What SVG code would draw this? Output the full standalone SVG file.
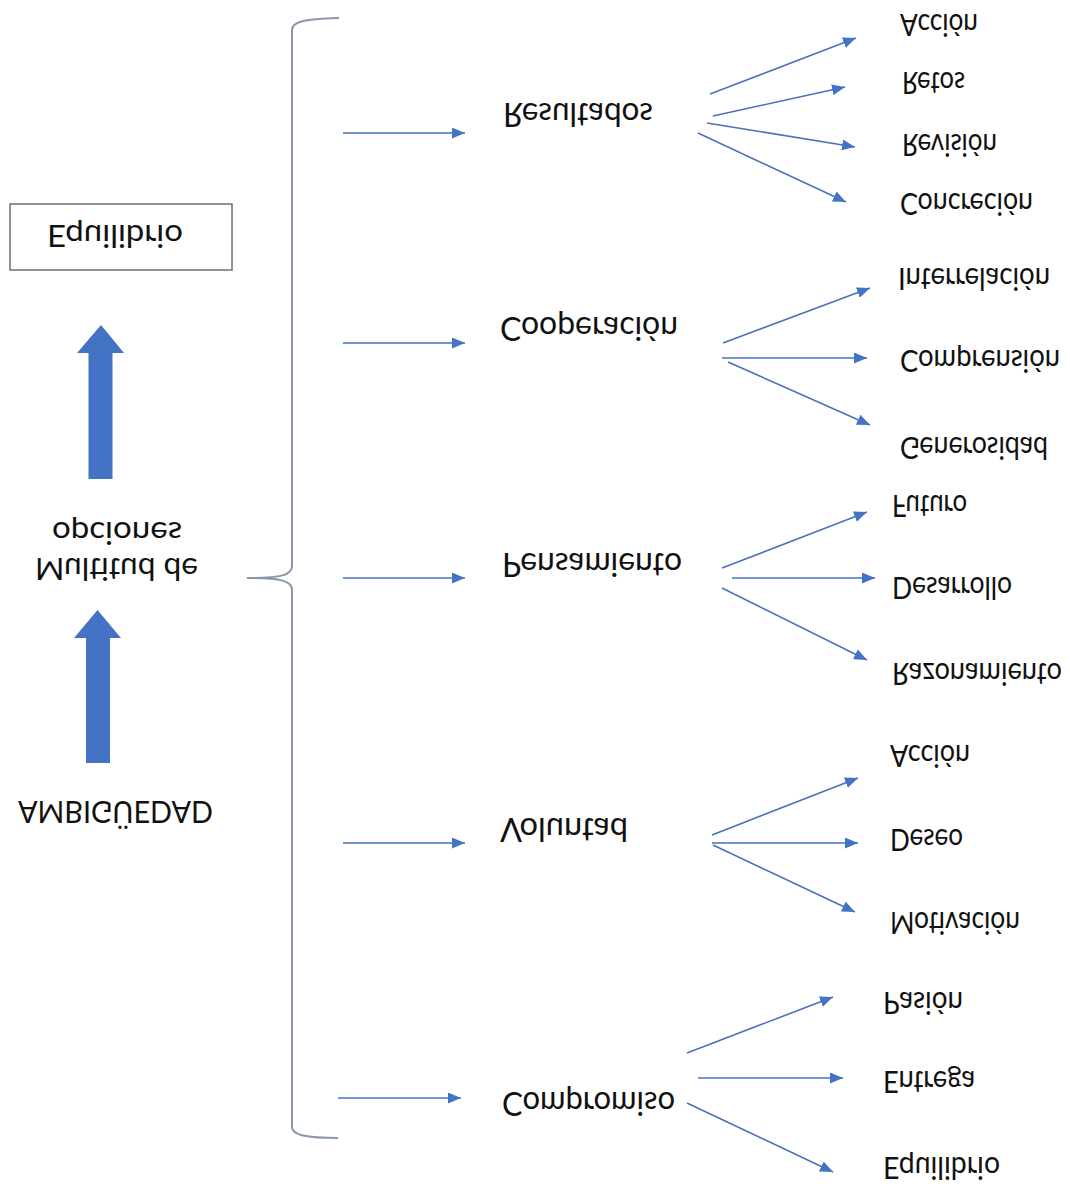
<svg xmlns="http://www.w3.org/2000/svg" width="1070" height="1189" viewBox="0 0 1070 1189">
  <style>
    text { font-family: "Lato", "Liberation Sans", sans-serif; fill: #111; }
    .l0 { font-size: 30px; }
    .l1 { font-size: 33px; }
    .l2 { font-size: 30px; }
    .link { stroke: #4a72b8; stroke-width: 1.6; fill: none; marker-end: url(#tip); }
    .brace { stroke: #8a96aa; stroke-width: 2; fill: none; }
    .block { fill: #4472c4; }
    .frame { fill: #fff; stroke: #66707c; stroke-width: 1.5; }
  </style>
  <defs>
    <marker id="tip" markerUnits="userSpaceOnUse" markerWidth="13" markerHeight="11" refX="13" refY="5.5" orient="auto">
      <path d="M0,0 L13,5.5 L0,11 z" fill="#4472c4"/>
    </marker>
  </defs>
  <rect width="1070" height="1189" fill="#fff"/>

  <!-- left column: mirrored labels and block arrows -->
  <g id="n-equilibrio-box">
    <rect class="frame" x="10" y="204" width="222" height="66"/>
    <text class="l0" transform="translate(47,225) scale(1,-1)" textLength="136" lengthAdjust="spacingAndGlyphs">Equilibrio</text>
  </g>
  <g id="n-arrow-upper">
    <polygon class="block" points="101,325 124,353 112.5,353 112.5,479 88.5,479 88.5,353 77,353"/>
  </g>
  <g id="n-multitud">
    <text class="l0" transform="translate(52,522) scale(1,-1)" textLength="130" lengthAdjust="spacingAndGlyphs">opciones</text>
    <text class="l0" transform="translate(35,558) scale(1,-1)" textLength="163" lengthAdjust="spacingAndGlyphs">Multitud de</text>
  </g>
  <g id="n-arrow-lower">
    <polygon class="block" points="97.5,610 121,638 110,638 110,763 86,763 86,638 74,638"/>
  </g>
  <g id="n-ambiguedad">
    <text class="l0" transform="translate(18,801) scale(1,-1)" textLength="195" lengthAdjust="spacingAndGlyphs">AMBIGÜEDAD</text>
  </g>

  <!-- first level -->
  <g id="n-resultados">
    <text class="l1" transform="translate(503,103) scale(1,-1)" textLength="150" lengthAdjust="spacingAndGlyphs">Resultados</text>
  </g>
  <g id="n-cooperacion">
    <text class="l1" transform="translate(500,317) scale(1,-1)" textLength="178" lengthAdjust="spacingAndGlyphs">Cooperación</text>
  </g>
  <g id="n-pensamiento">
    <text class="l1" transform="translate(502,553) scale(1,-1)" textLength="180" lengthAdjust="spacingAndGlyphs">Pensamiento</text>
  </g>
  <g id="n-voluntad">
    <text class="l1" transform="translate(500,818) scale(1,-1)" textLength="128" lengthAdjust="spacingAndGlyphs">Voluntad</text>
  </g>
  <g id="n-compromiso">
    <text class="l1" transform="translate(502,1092) scale(1,-1)" textLength="173" lengthAdjust="spacingAndGlyphs">Compromiso</text>
  </g>

  <!-- second level -->
  <g id="n-accion-1"><text class="l2" transform="translate(900,14) scale(1,-1)" textLength="78" lengthAdjust="spacingAndGlyphs">Acción</text></g>
  <g id="n-retos"><text class="l2" transform="translate(902,72) scale(1,-1)" textLength="63" lengthAdjust="spacingAndGlyphs">Retos</text></g>
  <g id="n-revision"><text class="l2" transform="translate(902,134) scale(1,-1)" textLength="95" lengthAdjust="spacingAndGlyphs">Revisión</text></g>
  <g id="n-concrecion"><text class="l2" transform="translate(900,193) scale(1,-1)" textLength="133" lengthAdjust="spacingAndGlyphs">Concreción</text></g>

  <g id="n-interrelacion"><text class="l2" transform="translate(898,268) scale(1,-1)" textLength="152" lengthAdjust="spacingAndGlyphs">Interrelación</text></g>
  <g id="n-comprension"><text class="l2" transform="translate(900,350) scale(1,-1)" textLength="160" lengthAdjust="spacingAndGlyphs">Comprensión</text></g>
  <g id="n-generosidad"><text class="l2" transform="translate(900,437) scale(1,-1)" textLength="148" lengthAdjust="spacingAndGlyphs">Generosidad</text></g>

  <g id="n-futuro"><text class="l2" transform="translate(892,495) scale(1,-1)" textLength="75" lengthAdjust="spacingAndGlyphs">Futuro</text></g>
  <g id="n-desarrollo"><text class="l2" transform="translate(892,577) scale(1,-1)" textLength="120" lengthAdjust="spacingAndGlyphs">Desarrollo</text></g>
  <g id="n-razonamiento"><text class="l2" transform="translate(892,663) scale(1,-1)" textLength="170" lengthAdjust="spacingAndGlyphs">Razonamiento</text></g>

  <g id="n-accion-2"><text class="l2" transform="translate(890,745) scale(1,-1)" textLength="80" lengthAdjust="spacingAndGlyphs">Acción</text></g>
  <g id="n-deseo"><text class="l2" transform="translate(890,829) scale(1,-1)" textLength="73" lengthAdjust="spacingAndGlyphs">Deseo</text></g>
  <g id="n-motivacion"><text class="l2" transform="translate(890,912) scale(1,-1)" textLength="130" lengthAdjust="spacingAndGlyphs">Motivación</text></g>

  <g id="n-pasion"><text class="l2" transform="translate(883,992) scale(1,-1)" textLength="80" lengthAdjust="spacingAndGlyphs">Pasión</text></g>
  <g id="n-entrega"><text class="l2" transform="translate(883,1071) scale(1,-1)" textLength="92" lengthAdjust="spacingAndGlyphs">Entrega</text></g>
  <g id="n-equilibrio-2"><text class="l2" transform="translate(883,1157) scale(1,-1)" textLength="117" lengthAdjust="spacingAndGlyphs">Equilibrio</text></g>

  <!-- connectors -->
  <g id="connectors">
    <path class="brace" d="M339,18 C306,19 292,21 292,30 L292,566 C292,575 282,578 247,578 C282,578 292,581 292,590 L292,1127 C292,1135 306,1138 338,1138"/>

    <line class="link" x1="343" y1="133" x2="465" y2="133"/>
    <line class="link" x1="343" y1="343" x2="465" y2="343"/>
    <line class="link" x1="343" y1="578" x2="465" y2="578"/>
    <line class="link" x1="343" y1="843" x2="465" y2="843"/>
    <line class="link" x1="338" y1="1098" x2="461" y2="1098"/>

    <line class="link" x1="710" y1="94" x2="856" y2="38"/>
    <line class="link" x1="713" y1="116" x2="845" y2="87"/>
    <line class="link" x1="707" y1="123" x2="855" y2="147"/>
    <line class="link" x1="698" y1="133" x2="846" y2="202"/>

    <line class="link" x1="723" y1="343" x2="870" y2="288"/>
    <line class="link" x1="722" y1="358" x2="867" y2="358"/>
    <line class="link" x1="728" y1="362" x2="870" y2="425"/>

    <line class="link" x1="722" y1="568" x2="867" y2="512"/>
    <line class="link" x1="732" y1="578" x2="875" y2="578"/>
    <line class="link" x1="722" y1="588" x2="867" y2="660"/>

    <line class="link" x1="712" y1="835" x2="858" y2="778"/>
    <line class="link" x1="712" y1="843" x2="858" y2="843"/>
    <line class="link" x1="713" y1="845" x2="855" y2="912"/>

    <line class="link" x1="687" y1="1053" x2="833" y2="997"/>
    <line class="link" x1="698" y1="1078" x2="843" y2="1078"/>
    <line class="link" x1="687" y1="1103" x2="833" y2="1172"/>
  </g>
</svg>
